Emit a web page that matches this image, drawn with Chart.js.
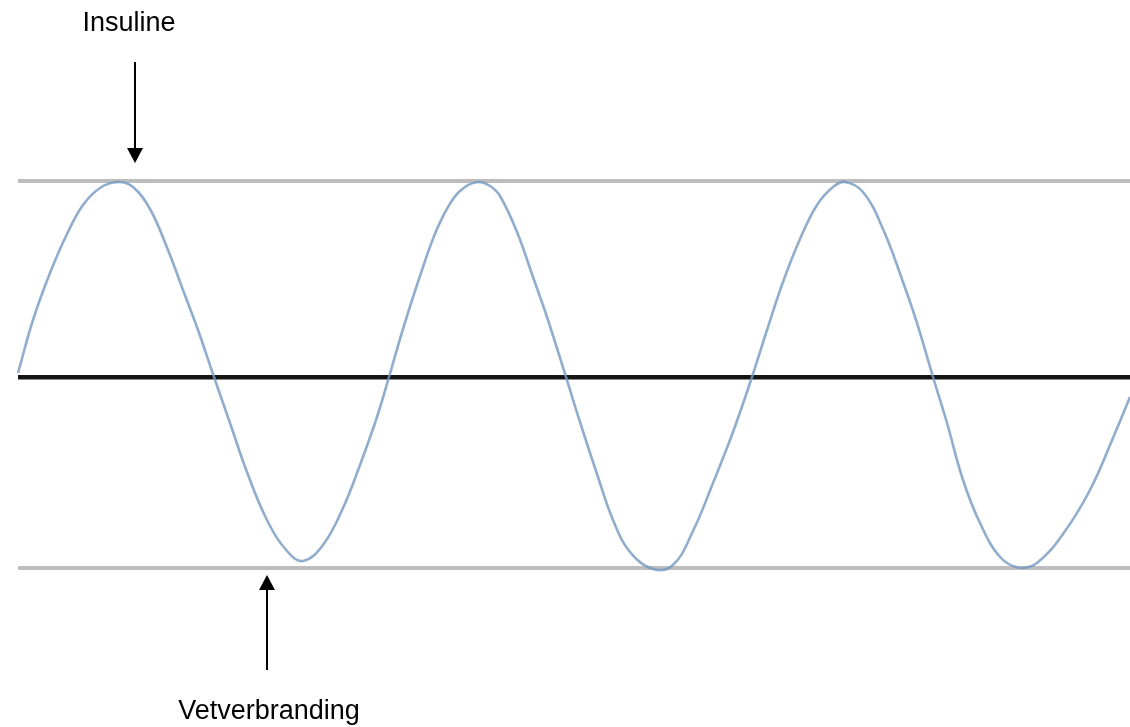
<!DOCTYPE html>
<html>
<head>
<meta charset="utf-8">
<script src="https://cdn.jsdelivr.net/npm/chart.js@4"></script>
<style>
  html, body { margin: 0; padding: 0; background: #fff; }
  #wrap { width: 1130px; height: 727px; }
</style>
</head>
<body>
<div id="wrap"><canvas id="waveChart" width="1130" height="727"></canvas></div>
<script>
// positions along the time axis
const waveX = [0, 15, 32, 49, 65, 82, 100, 115, 132, 150, 165, 180, 196, 212, 229, 249, 269, 285,
  305, 325, 342, 359, 371, 385, 402, 419, 435, 447, 460, 472, 482, 499, 515, 529, 548, 562, 579,
  595, 612, 635, 655, 675, 695, 715, 734, 749, 765, 782, 799, 815, 827, 845, 865, 885, 899, 915,
  929, 945, 962, 982, 1002, 1019, 1045, 1072, 1095, 1112];
// level of the wave (0 = middle line)
const waveY = [4, 57, 104, 143, 172, 189, 195, 190, 168, 127, 87, 47, 0, -46, -95, -143, -174, -184,
  -168, -131, -88, -40, 0, 48, 101, 148, 178, 190, 195, 191, 181, 145, 100, 60, 0, -45, -97,
  -143, -175, -192, -188, -154, -106, -55, 0, 47, 95, 138, 172, 190, 195, 185, 148, 95, 54, 0,
  -46, -103, -146, -180, -191, -186, -157, -113, -61, -20];
// horizontal reference lines: bottom, middle, top
const levelLines = [-191, 0, 196];
const topLabel = "Insuline";
const bottomLabel = "Vetverbranding";

const points = waveX.map((x, i) => ({ x: x, y: waveY[i] }));

// arrows with their labels
const arrowPlugin = {
  id: "arrows",
  afterDraw(chart) {
    const ctx = chart.ctx;
    const xs = chart.scales.x;
    const ys = chart.scales.y;
    ctx.save();
    ctx.fillStyle = "#000";
    ctx.strokeStyle = "#000";
    ctx.lineWidth = 2;
    ctx.font = "27px 'Liberation Sans', Arial, sans-serif";
    ctx.textAlign = "center";
    ctx.textBaseline = "alphabetic";

    // Insuline: arrow pointing down at the top line
    let ax = xs.getPixelForValue(117);
    let tip = ys.getPixelForValue(levelLines[2]) - 18;
    ctx.beginPath();
    ctx.moveTo(ax, 62);
    ctx.lineTo(ax, tip - 12);
    ctx.stroke();
    ctx.beginPath();
    ctx.moveTo(ax - 8, tip - 15);
    ctx.lineTo(ax + 8, tip - 15);
    ctx.lineTo(ax, tip);
    ctx.closePath();
    ctx.fill();
    ctx.fillText(topLabel, 129, 31);

    // Vetverbranding: arrow pointing up at the bottom line
    ax = xs.getPixelForValue(249);
    tip = ys.getPixelForValue(levelLines[0]) + 7;
    ctx.beginPath();
    ctx.moveTo(ax, 670);
    ctx.lineTo(ax, tip + 12);
    ctx.stroke();
    ctx.beginPath();
    ctx.moveTo(ax - 8, tip + 15);
    ctx.lineTo(ax + 8, tip + 15);
    ctx.lineTo(ax, tip);
    ctx.closePath();
    ctx.fill();
    ctx.fillText(bottomLabel, 269, 719);
    ctx.restore();
  }
};

new Chart(document.getElementById("waveChart"), {
  type: "line",
  data: {
    datasets: [{
      data: points,
      borderColor: "rgba(118,152,192,0.8)",
      borderWidth: 2.6,
      pointRadius: 0,
      fill: false,
      tension: 0.4,
      clip: 6
    }]
  },
  options: {
    responsive: false,
    animation: false,
    layout: { padding: { left: 18, right: 0, top: 181, bottom: 159 } },
    plugins: { legend: { display: false }, tooltip: { enabled: false } },
    scales: {
      x: { type: "linear", min: 0, max: 1112, display: false },
      y: {
        type: "linear",
        min: levelLines[0],
        max: levelLines[2],
        afterBuildTicks: (scale) => { scale.ticks = levelLines.map((v) => ({ value: v })); },
        afterFit: (scale) => { scale.width = 0; },
        ticks: { display: false },
        border: { display: false },
        grid: {
          drawTicks: false,
          color: (c) => (c.tick && c.tick.value === 0 ? "#151515" : "#bdbdbd"),
          lineWidth: (c) => (c.tick && c.tick.value === 0 ? 4.5 : 4)
        }
      }
    }
  },
  plugins: [arrowPlugin]
});
</script>
</body>
</html>
